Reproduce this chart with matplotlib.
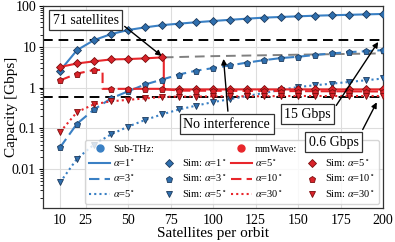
import numpy as np
import matplotlib.pyplot as plt
from matplotlib.lines import Line2D
from matplotlib.ticker import FuncFormatter

plt.rcParams['font.family'] = ['Liberation Serif', 'DejaVu Serif']
plt.rcParams['mathtext.fontset'] = 'stix'

# simulation points (satellites per orbit)
sats = [10, 20, 30, 40, 50, 60, 70, 80, 90, 100, 110, 120, 130, 140, 150, 160, 170, 180, 190, 200]

# sub-THz
thz_a1 = [2.6, 8.3, 14.6, 20.5, 25.8, 30, 34, 37, 40, 43, 46, 49, 52, 54, 56, 58, 59.5, 61, 62.5, 64]
thz_a3 = [0.034, 0.13, 0.29, 0.54, 0.81, 1.19, 1.57, 2.09, 2.6, 3.0, 3.5, 4.1, 4.7, 5.3, 5.7, 6.3, 6.9, 7.4, 7.8, 8.3]
thz_a5 = [0.0047, 0.018, 0.040, 0.071, 0.11, 0.16, 0.22, 0.29, 0.36, 0.44, 0.52, 0.62, 0.74, 0.88, 1.03, 1.14, 1.25, 1.37, 1.51, 1.67]

# mmWave
mm_a5 = [3.2, 3.9, 4.4, 4.9, 5.0, 5.2, 5.5, 0.9, 0.9, 0.9, 0.9, 0.9, 0.9, 0.9, 0.9, 0.9, 0.9, 0.9, 0.9, 0.9]
mm_a10 = [1.5, 2.2, 2.7, 0.93, 0.93, 0.93, 0.93, 0.84, 0.83, 0.82, 0.82, 0.81, 0.81, 0.8, 0.8, 0.8, 0.8, 0.8, 0.8, 0.8]
mm_a30 = [0.081, 0.25, 0.39, 0.46, 0.50, 0.54, 0.59, 0.6, 0.6, 0.61, 0.61, 0.61, 0.61, 0.62, 0.62, 0.62, 0.62, 0.62, 0.62, 0.62]

# model curves with the interference step
mm_a5_x = [10, 20, 30, 40, 50, 60, 70, 71, 71, 80, 200]
mm_a5_y = [3.2, 3.9, 4.4, 4.9, 5.0, 5.2, 5.5, 5.5, 0.9, 0.9, 0.9]
mm_a10_x = [10, 20, 30, 35, 35, 70, 80, 200]
mm_a10_y = [1.5, 2.2, 2.7, 2.7, 0.93, 0.93, 0.84, 0.8]
noint_x = [71, 100, 150, 200]
noint_y = [5.5, 5.9, 6.4, 6.9]

thr_hi = 15
thr_lo = 0.6

blue = '#3a80c4'
blue_m = '#2f6fae'
blue_e = '#1d3a5c'
red = '#e8262b'
red_m = '#d9232a'
red_e = '#7a0c0c'

fig = plt.figure(figsize=(3.95, 2.42), dpi=100)
ax = fig.add_axes([0.109, 0.140, 0.861, 0.835])

ax.axhline(thr_hi, color='k', ls=(0, (5, 3)), lw=1.4, zorder=2)
ax.axhline(thr_lo, color='k', ls=(0, (5, 3)), lw=1.4, zorder=2)
ax.plot(noint_x, noint_y, color='gray', ls=(0, (5, 3)), lw=1.4, zorder=2)

lw = 1.5
ax.plot(sats, thz_a1, color=blue, ls='-', lw=lw, zorder=3)
ax.plot(sats, thz_a3, color=blue, ls=(0, (5, 2.5)), lw=lw, zorder=3)
ax.plot(sats, thz_a5, color=blue, ls=(0, (1, 1.5)), lw=lw, zorder=3)
ax.plot(mm_a5_x, mm_a5_y, color=red, ls='-', lw=lw, zorder=3)
ax.plot(mm_a10_x, mm_a10_y, color=red, ls=(0, (5, 2.5)), lw=lw, zorder=3)
ax.plot(sats, mm_a30, color=red, ls=(0, (1, 1.5)), lw=lw, zorder=3)

ms = 5
mk = dict(ls='none', ms=ms, mew=0.6, zorder=4)
ax.plot(sats, thz_a1, marker='D', mfc=blue_m, mec=blue_e, **dict(mk, ms=4.2))
ax.plot(sats, thz_a3, marker='p', mfc=blue_m, mec=blue_e, **mk)
ax.plot(sats, thz_a5, marker='v', mfc=blue_m, mec=blue_e, **mk)
ax.plot(sats, mm_a5, marker='D', mfc=red_m, mec=red_e, **dict(mk, ms=4.2))
ax.plot(sats, mm_a10, marker='p', mfc=red_m, mec=red_e, **mk)
ax.plot(sats, mm_a30, marker='v', mfc=red_m, mec=red_e, **mk)

ax.set_yscale('log')
ax.set_xlim(0, 200)
ax.set_ylim(0.0011, 100)
ax.set_xticks([10, 25, 50, 75, 100, 125, 150, 175, 200])
ax.yaxis.set_major_formatter(FuncFormatter(lambda v, p: '%g' % v))
ax.grid(True, which='major', color='#dddddd', lw=0.8, zorder=0)
ax.set_axisbelow(True)
ax.tick_params(axis='x', length=0, labelsize=10, pad=4)
ax.tick_params(axis='y', which='major', length=3, labelsize=10, pad=2)
ax.tick_params(axis='y', which='minor', length=2)
for s in ax.spines.values():
    s.set_color('#333333')
    s.set_linewidth(0.9)
ax.set_xlabel('Satellites per orbit', fontsize=11, labelpad=0)
ax.set_ylabel('Capacity [Gbps]', fontsize=11)
ax.yaxis.set_label_coords(-0.075, 0.5)

box = dict(boxstyle='square,pad=0.25', fc='white', ec='#333333', lw=0.9)
arr = dict(arrowstyle='-|>', color='k', lw=1.0, mutation_scale=8)
ax.annotate('71 satellites', xy=(71, 5.4), xytext=(25, 45), ha='center', va='center',
            fontsize=10, bbox=box, arrowprops=dict(arr, relpos=(0.95, 0.6)), zorder=6)
ax.annotate('No interference', xy=(106, 5.9), xytext=(108, 0.125), ha='center', va='center',
            fontsize=10, bbox=box, arrowprops=dict(arr, relpos=(0.52, 1.0)), zorder=6)
ax.annotate('15 Gbps', xy=(198, 15), xytext=(155.5, 0.22), ha='center', va='center',
            fontsize=10, bbox=box, arrowprops=dict(arr, relpos=(1.0, 0.55)), zorder=6)
ax.annotate('0.6 Gbps', xy=(197, 0.5), xytext=(171, 0.045), ha='center', va='center',
            fontsize=10, bbox=box, arrowprops=dict(arr, relpos=(1.0, 0.9)), zorder=6)

blank = Line2D([], [], ls='none')
handles = [
    Line2D([], [], ls='none', marker='o', ms=5, color=blue),
    Line2D([], [], color=blue, ls='-', lw=lw),
    Line2D([], [], color=blue, ls=(0, (5, 2.5)), lw=lw),
    Line2D([], [], color=blue, ls=(0, (1, 1.5)), lw=lw),
    blank,
    Line2D([], [], ls='none', marker='D', ms=4.2, mfc=blue_m, mec=blue_e, mew=0.6),
    Line2D([], [], ls='none', marker='p', ms=ms, mfc=blue_m, mec=blue_e, mew=0.6),
    Line2D([], [], ls='none', marker='v', ms=ms, mfc=blue_m, mec=blue_e, mew=0.6),
    Line2D([], [], ls='none', marker='o', ms=5, color=red),
    Line2D([], [], color=red, ls='-', lw=lw),
    Line2D([], [], color=red, ls=(0, (5, 2.5)), lw=lw),
    Line2D([], [], color=red, ls=(0, (1, 1.5)), lw=lw),
    blank,
    Line2D([], [], ls='none', marker='D', ms=4.2, mfc=red_m, mec=red_e, mew=0.6),
    Line2D([], [], ls='none', marker='p', ms=ms, mfc=red_m, mec=red_e, mew=0.6),
    Line2D([], [], ls='none', marker='v', ms=ms, mfc=red_m, mec=red_e, mew=0.6),
]
labels = ['Sub-THz:', r'$\alpha$=1$^\circ$', r'$\alpha$=3$^\circ$', r'$\alpha$=5$^\circ$',
          '', r'Sim: $\alpha$=1$^\circ$', r'Sim: $\alpha$=3$^\circ$', r'Sim: $\alpha$=5$^\circ$',
          'mmWave:', r'$\alpha$=5$^\circ$', r'$\alpha$=10$^\circ$', r'$\alpha$=30$^\circ$',
          '', r'Sim: $\alpha$=5$^\circ$', r'Sim: $\alpha$=10$^\circ$', r'Sim: $\alpha$=30$^\circ$']
leg = ax.legend(handles, labels, ncol=4, loc='lower right', fontsize=7.5, framealpha=0.8,
                columnspacing=0.4, handlelength=2.0, handletextpad=0.3, labelspacing=0.4,
                borderaxespad=0.4)
leg.set_zorder(5)

fig.savefig('out.png', dpi=100)
